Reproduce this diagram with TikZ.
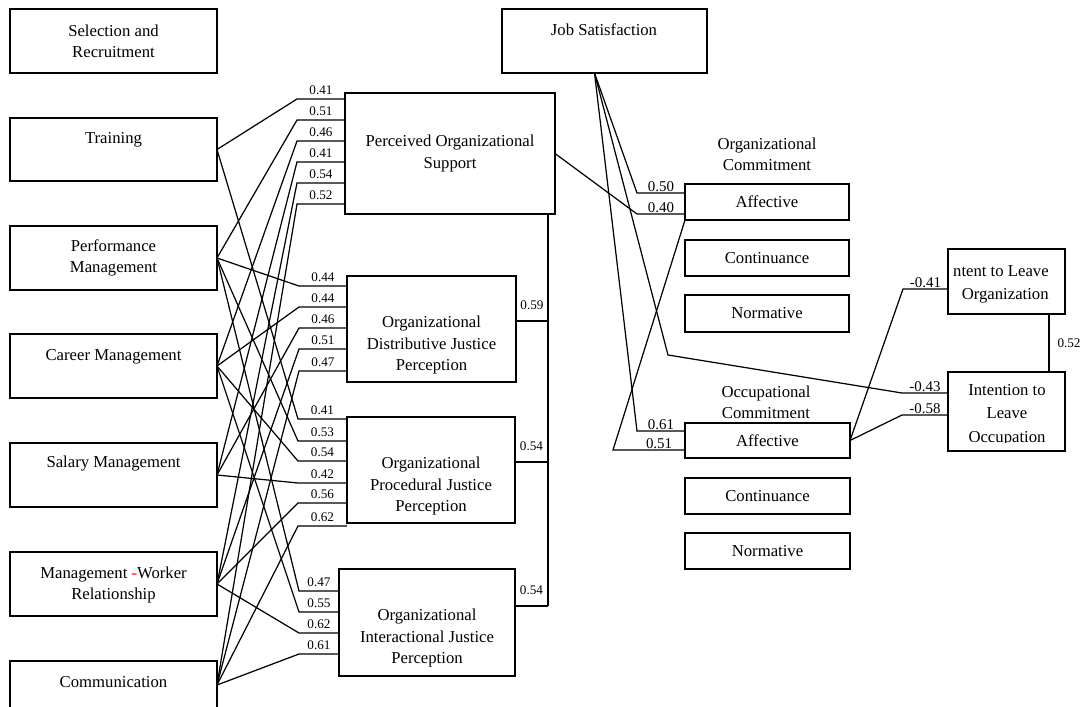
\documentclass[tikz,border=0pt]{standalone}
\usepackage{fontspec}
\setmainfont{Liberation Serif}
\tikzset{
  box/.style={draw, line width=0.9pt, inner sep=0pt, outer sep=0pt, align=center, font=\fontsize{9.5}{12}\selectfont},
  sz/.style 2 args={minimum width=#1*0.02cm, minimum height=#2*0.02cm},
  txt/.style={align=center, inner sep=0pt, font=\fontsize{9.5}{12}\selectfont},
  link/.style={line width=0.7pt},
  wt/.style={anchor=south, inner sep=2pt, font=\fontsize{7.5}{9}\selectfont},
  wtr/.style={anchor=south, inner sep=0.6pt, font=\fontsize{8.5}{10}\selectfont},
}
\begin{document}
\begin{tikzpicture}[x=0.02cm,y=-0.02cm]
\useasboundingbox (0,0) rectangle (1083,707);
\clip (0,0) rectangle (1083,707);
% HRM practices
\node[box,sz={207}{64}] (sel) at (113.5,41) {};
\node[txt] (sel-t) at (113.5,41) {Selection and\\Recruitment};
\node[box,sz={207}{63}] (trn) at (113.5,149.5) {};
\node[txt] (trn-t) at (113.5,140) {Training};
\node[box,sz={207}{64}] (prf) at (113.5,258) {};
\node[txt] (prf-t) at (113.5,257.5) {Performance\\Management};
\node[box,sz={207}{64}] (car) at (113.5,366) {};
\node[txt] (car-t) at (113.5,357) {Career Management};
\node[box,sz={207}{64}] (sal) at (113.5,475) {};
\node[txt] (sal-t) at (113.5,464) {Salary Management};
\node[box,sz={207}{64}] (mwr) at (113.5,584) {};
\node[txt] (mwr-t) at (113.5,585) {Management \textcolor{red}{-}Worker\\Relationship};
\node[box,sz={207}{48}] (com) at (113.5,685) {};
\node[txt] (com-t) at (113.5,682) {Communication};
% support and justice
\node[box,sz={210}{121}] (pos) at (450,153.5) {Perceived Organizational\\Support};
\node[box,sz={169}{106}] (odj) at (431.5,329) {};
\node[txt] (odj-t) at (431.5,345) {Organizational\\Distributive Justice\\Perception};
\node[box,sz={168}{106}] (opj) at (431,470) {};
\node[txt] (opj-t) at (431,486) {Organizational\\Procedural Justice\\Perception};
\node[box,sz={176}{107}] (oij) at (427,622.5) {};
\node[txt] (oij-t) at (427,638) {Organizational\\Interactional Justice\\Perception};
% satisfaction, commitment, leaving
\node[box,sz={205}{64}] (js) at (604.5,41) {};
\node[txt] (js-t) at (604,30) {Job Satisfaction};
\node[txt] (oc) at (767,154) {Organizational\\Commitment};
\node[box,sz={164}{36}] (aoc) at (767,202) {Affective};
\node[box,sz={164}{36}] (con) at (767,258) {Continuance};
\node[box,sz={164}{37}] (nor) at (767,313.5) {Normative};
\node[txt] (occ) at (766,402) {Occupational\\Commitment};
\node[box,sz={165}{35}] (aoc2) at (767.5,440.5) {Affective};
\node[box,sz={165}{36}] (con2) at (767.5,496) {Continuance};
\node[box,sz={165}{36}] (nor2) at (767.5,551) {Normative};
\begin{scope}
\clip (953.5,250) rectangle (1064,313);
\node[txt,align=right,anchor=east,font=\fontsize{9.5}{13.3}\selectfont] (ito-t) at (1049,284.5) {Intent to Leave\\Organization};
\end{scope}
\node[box,sz={117}{65}] (ito) at (1006.5,281.5) {};
\begin{scope}
\clip (949,373) rectangle (1064,442);
\node[txt,font=\fontsize{9.5}{13.3}\selectfont] (itc-t) at (1007,415) {Intention to\\Leave\\Occupation};
\end{scope}
\node[box,sz={117}{79}] (itc) at (1006.5,411.5) {};
% paths to support
\draw[link] (trn.east) -- (297,99) -- node[wt]{0.41} (pos.west |- 0,99);
\draw[link] (prf.east) -- (297,120) -- node[wt]{0.51} (pos.west |- 0,120);
\draw[link] (car.east) -- (297,141) -- node[wt]{0.46} (pos.west |- 0,141);
\draw[link] (sal.east) -- (297,162) -- node[wt]{0.41} (pos.west |- 0,162);
\draw[link] (mwr.east) -- (297,183) -- node[wt]{0.54} (pos.west |- 0,183);
\draw[link] (com.east) -- (297,204) -- node[wt]{0.52} (pos.west |- 0,204);
% paths to distributive justice
\draw[link] (prf.east) -- (299,286) -- node[wt]{0.44} (odj.west |- 0,286);
\draw[link] (car.east) -- (299,307) -- node[wt]{0.44} (odj.west |- 0,307);
\draw[link] (sal.east) -- (299,328) -- node[wt]{0.46} (odj.west |- 0,328);
\draw[link] (mwr.east) -- (299,349) -- node[wt]{0.51} (odj.west |- 0,349);
\draw[link] (com.east) -- (299,371) -- node[wt]{0.47} (odj.west |- 0,371);
% paths to procedural justice
\draw[link] (trn.east) -- (298,419) -- node[wt]{0.41} (opj.west |- 0,419);
\draw[link] (prf.east) -- (298,441) -- node[wt]{0.53} (opj.west |- 0,441);
\draw[link] (car.east) -- (298,461) -- node[wt]{0.54} (opj.west |- 0,461);
\draw[link] (sal.east) -- (298,483) -- node[wt]{0.42} (opj.west |- 0,483);
\draw[link] (mwr.east) -- (298,503) -- node[wt]{0.56} (opj.west |- 0,503);
\draw[link] (com.east) -- (298,526) -- node[wt]{0.62} (opj.west |- 0,526);
% paths to interactional justice
\draw[link] (prf.east) -- (299,591) -- node[wt]{0.47} (oij.west |- 0,591);
\draw[link] (car.east) -- (299,612) -- node[wt]{0.55} (oij.west |- 0,612);
\draw[link] (mwr.east) -- (299,633) -- node[wt]{0.62} (oij.west |- 0,633);
\draw[link] (com.east) -- (299,654) -- node[wt]{0.61} (oij.west |- 0,654);
% justice to support
\draw[link] (pos.south -| 548,0) -- (548,606);
\draw[link] (odj.east |- 0,321) -- node[wt,above=4pt]{0.59} (548,321);
\draw[link] (opj.east |- 0,462) -- node[wt,above=4pt]{0.54} (548,462);
\draw[link] (oij.east |- 0,606) -- node[wt,above=4pt]{0.54} (548,606);
% commitment and leaving
\draw[link] ([xshift=-0.2cm]js.south) -- (637,193) -- node[wtr]{0.50} (aoc.west |- 0,193);
\draw[link] (pos.east) -- (637,214) -- node[wtr]{0.40} (aoc.west |- 0,214);
\draw[link] ([xshift=-0.2cm]js.south) -- (637,431) -- node[wtr]{0.61} (aoc2.west |- 0,431);
\draw[link] (aoc.south west) -- (613,450) -- node[wtr,pos=0.64]{0.51} (aoc2.west |- 0,450);
\draw[link] ([xshift=-0.2cm]js.south) -- (668,355) -- (902,393) -- node[wtr]{-0.43} (itc.west |- 0,393);
\draw[link] (aoc2.east) -- (903,289) -- node[wtr]{-0.41} (ito.west |- 0,289);
\draw[link] (aoc2.east) -- (902,415) -- node[wtr]{-0.58} (itc.west |- 0,415);
\draw[link] (ito.south -| 1049,0) -- node[wt,right=2.5pt]{0.52} (itc.north -| 1049,0);
\end{tikzpicture}
\end{document}
